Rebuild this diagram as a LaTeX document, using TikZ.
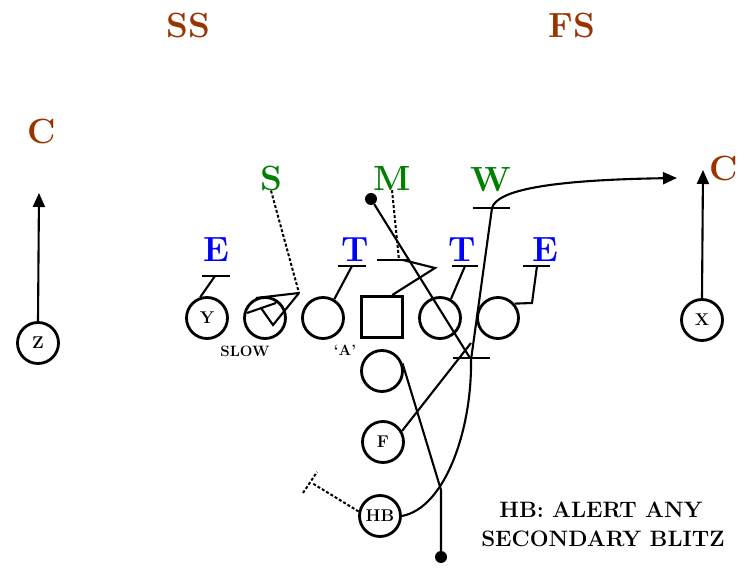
\documentclass[tikz,border=0pt]{standalone}
\usepackage{fontspec}
\usetikzlibrary{arrows.meta,calc}
\definecolor{cbrown}{RGB}{153,51,0}
\definecolor{cgreen}{RGB}{0,128,0}
\definecolor{cblue}{RGB}{0,0,255}
\begin{document}
\begin{tikzpicture}[x=1pt,y=-1pt,
  big/.style={font=\fontsize{35}{35}\selectfont\bfseries, inner sep=0pt},
  dback/.style={big, text=cbrown},
  lb/.style={big, text=cgreen},
  dl/.style={big, text=cblue},
  player/.style={circle, draw, line width=2.8pt, minimum size=41pt, inner sep=0pt, font=\bfseries\fontsize{17}{17}\selectfont},
  route/.style={line width=2.1pt},
  blk/.style={line width=2.1pt},
  dot/.style={line width=2pt, dash pattern=on 3pt off 2pt},
  arr/.style={-{Triangle[length=14pt,width=12pt]}},
  small/.style={font=\bfseries\fontsize{15}{15}\selectfont, inner sep=0pt},
  note/.style={font=\bfseries\fontsize{22.3}{22.3}\selectfont, inner sep=0pt},
  ball/.style={circle, fill=black, minimum size=12pt, inner sep=0pt}
]
\useasboundingbox (0,0) rectangle (748,569);
% defenders
\node[dback] (SS) at (188,25) {SS};
\node[dback] (FS) at (572,25) {FS};
\node[dback] (CL) at (42,131) {C};
\node[dback] (CR) at (724,168) {C};
\node[lb] (S) at (271,178) {S};
\node[lb] (M) at (392,178) {M};
\node[lb] (W) at (491,180) {W};
\node[dl] (EL) at (216,250) {E};
\node[dl] (TL) at (355,250) {T};
\node[dl] (TR) at (462,250) {T};
\node[dl] (ER) at (545,250) {E};
% offense
\node[player] (Y) at (207,318) {Y};
\node[player] (LT) at (265,318) {};
\node[player] (LG) at (323,318) {};
\node[draw, line width=3pt, minimum size=41pt, inner sep=0pt] (C) at (382,317) {};
\node[player] (RG) at (440,318) {};
\node[player] (RT) at (498,318) {};
\node[player] (Q) at (382,371) {};
\node[player] (F) at (383,442) {F};
\node[player] (HB) at (380,516) {HB};
\node[player] (Z) at (38,343) {Z};
\node[player] (X) at (702,320) {X};
\node[small] (slow) at (245,351) {SLOW};
\node[small] (A) at (345,350) {`A'};
\node[note] (n1) at (601,510) {HB: ALERT ANY};
\node[note] (n2) at (603,539) {SECONDARY BLITZ};
% coordinates
\coordinate (zt) at (39,193);
\coordinate (xt) at (703,170);
\coordinate (eb) at (215,276);
\coordinate (eb1) at (202,276); \coordinate (eb2) at (230,276);
\coordinate (tb) at (352,266);
\coordinate (tb1) at (338,266); \coordinate (tb2) at (366,266);
\coordinate (trb) at (465,266);
\coordinate (trb1) at (452,266); \coordinate (trb2) at (478,266);
\coordinate (erk) at (532,303);
\coordinate (erb) at (537,266);
\coordinate (erb1) at (523,266); \coordinate (erb2) at (550,266);
\coordinate (cz) at (435,268);
\coordinate (cb) at (403,260);
\coordinate (cb1) at (377,260); \coordinate (cb2) at (410,260);
\coordinate (md) at (399,260);
\coordinate (apex) at (299,293);
\coordinate (s1) at (256,298);
\coordinate (s2) at (273,325);
\coordinate (s3) at (261,308);
\coordinate (s4) at (247,313);
\coordinate (s5) at (276,303);
\coordinate (hbk) at (312,483);
\coordinate (hbk1) at (303,493); \coordinate (hbk2) at (317,472);
\node[ball] (mdot) at (371,199) {};
\coordinate (mend) at (470,358);
\coordinate (lowb1) at (453,358); \coordinate (lowb2) at (490,358);
\coordinate (fend) at (471,343);
\coordinate (qk) at (441,490);
\node[ball] (qdot) at (441,557) {};
\coordinate (w1) at (471,360);
\coordinate (w2) at (492,208);
\coordinate (wt) at (677,178);
\coordinate (wb1) at (473,208); \coordinate (wb2) at (510,208);
% routes
\draw[route, arr] (Z.north) -- (zt);
\draw[route, arr] (X.north) -- (xt);
% blocks
\draw[blk] (Y.108) -- (eb); \draw[blk] (eb1) -- (eb2);
\draw[blk] (LG.59) -- (tb); \draw[blk] (tb1) -- (tb2);
\draw[blk] (RG.60) -- (trb); \draw[blk] (trb1) -- (trb2);
\draw[blk] (RT.41) -- (erk) -- (erb); \draw[blk] (erb1) -- (erb2);
\draw[blk] (C.65) -- (cz) -- (cb); \draw[blk] (cb1) -- (cb2);
\draw[blk] (apex) -- (s1);
\draw[blk] (apex) -- (s2) -- (s3);
\draw[blk] (s4) -- (s5);
\draw[dot] (M.south) -- (md);
\draw[dot] (S.south) -- (apex);
\draw[dot] (HB.168) -- (hbk); \draw[dot] (hbk1) -- (hbk2);
\draw[route] (mdot) -- (mend); \draw[blk] (lowb1) -- (lowb2);
\draw[route] (F.30) -- (fend);
\draw[route] (Q.20) -- (qk) -- (qdot);
\draw[route, arr] (HB.east) .. controls (445,508) and (472,430) .. (w1) -- (w2) .. controls (497,190) and (550,180) .. (wt);
\draw[blk] (wb1) -- (wb2);
\end{tikzpicture}
\end{document}
